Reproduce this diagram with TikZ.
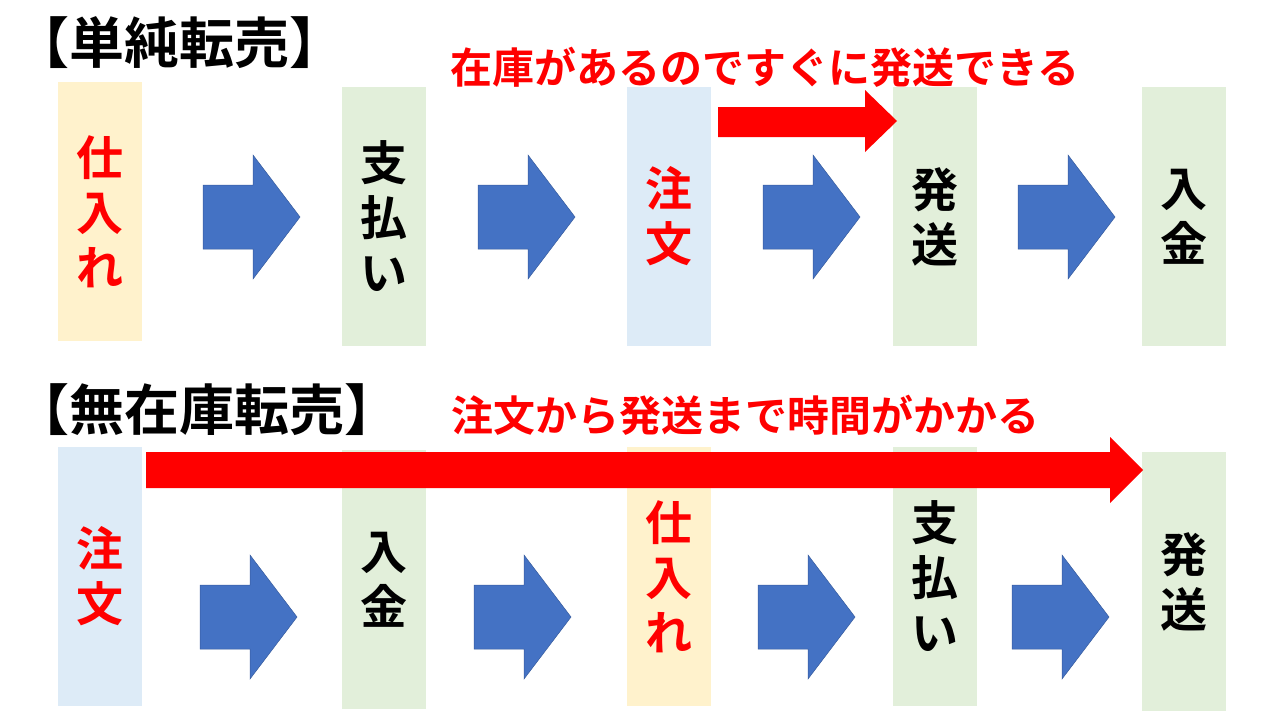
\documentclass[tikz,border=0pt]{standalone}
\usepackage{fontspec}
\newfontfamily\cjk{Noto Sans CJK JP}[BoldFont={* Bold}]
\definecolor{yel}{HTML}{FFF2CC}
\definecolor{grn}{HTML}{E2EFDA}
\definecolor{blu}{HTML}{DDEBF7}
\definecolor{arr}{HTML}{4472C4}
\tikzset{
 box/.style={inner sep=0pt,minimum width=84pt,minimum height=259pt,align=center,font=\cjk\bfseries\fontsize{47}{55}\selectfont},
 blk/.style={fill=arr,draw=arr!80!black,line width=0.5pt},
 lbl/.style={font=\cjk\bfseries\fontsize{42}{46}\selectfont,text=red,inner sep=0pt},
 ttl/.style={font=\cjk\bfseries\fontsize{55}{58}\selectfont,inner sep=0pt,anchor=west}
}
\newcommand\blockarrow[2]{\draw[blk] (#1,#2-32)--(#1+50,#2-32)--(#1+50,#2-62)--(#1+97,#2)--(#1+50,#2+62)--(#1+50,#2+32)--(#1,#2+32)--cycle;}
\begin{document}
\begin{tikzpicture}[x=1pt,y=-1pt]
\useasboundingbox (0,0) rectangle (1280,720);
% top
\node[ttl] (t1) at (14,43) {【単純転売】};
\node[box,fill=yel,text=red] (a1) at (99.5,211.5) {仕\\入\\れ};
\node[box,fill=grn] (a2) at (384,216.5) {支\\払\\い};
\node[box,fill=blu,text=red] (a3) at (669,216.5) {注\\文};
\node[box,fill=grn] (a4) at (935,216.5) {発\\送};
\node[box,fill=grn] (a5) at (1184,216.5) {入\\金};
\blockarrow{203}{217}
\blockarrow{478}{217}
\blockarrow{763}{217}
\blockarrow{1018}{217}
\node[lbl] (l1) at (765,67) {在庫があるのですぐに発送できる};
\fill[red] (718,107)--(865,107)--(865,90)--(897,121)--(865,152)--(865,137)--(718,137)--cycle;
% bottom
\node[ttl] (t2) at (14,410) {【無在庫転売】};
\node[box,fill=blu,text=red] (b1) at (99.5,576.5) {注\\文};
\node[box,fill=grn] (b2) at (384,579.5) {入\\金};
\node[box,fill=yel,text=red] (b3) at (669,576.5) {仕\\入\\れ};
\node[box,fill=grn] (b4) at (935,576.5) {支\\払\\い};
\node[box,fill=grn] (b5) at (1184,581.5) {発\\送};
\blockarrow{200}{617}
\blockarrow{474}{617}
\blockarrow{758}{617}
\blockarrow{1012}{617}
\node[lbl] (l2) at (745,415) {注文から発送まで時間がかかる};
\fill[red] (146,452)--(1110,452)--(1110,437)--(1143,470)--(1110,503)--(1110,488)--(146,488)--cycle;
\end{tikzpicture}
\end{document}
